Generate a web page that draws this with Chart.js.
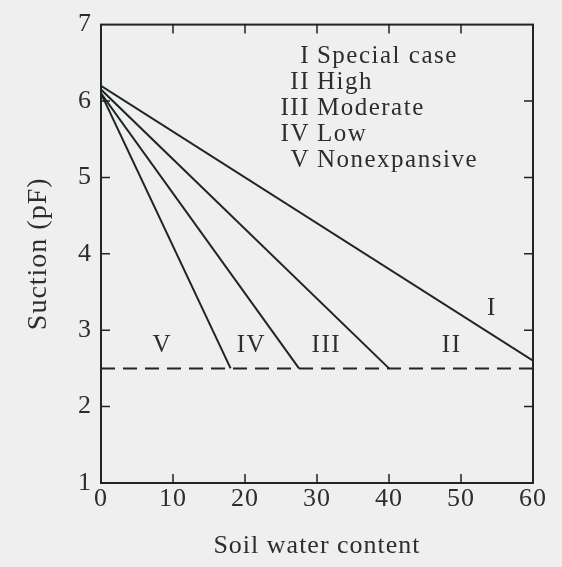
<!DOCTYPE html>
<html>
<head>
<meta charset="utf-8">
<script src="https://cdn.jsdelivr.net/npm/chart.js@4.4.1/dist/chart.umd.min.js"></script>
<style>
  html, body { margin: 0; padding: 0; background: #efefef; }
  #wrap { width: 562px; height: 567px; position: relative; }
</style>
</head>
<body>
<div id="wrap"><canvas id="c" width="562" height="567"></canvas></div>
<script>
// ---- data ----
const xTickValues = [0, 10, 20, 30, 40, 50, 60];
const yTickValues = [1, 2, 3, 4, 5, 6, 7];
// boundary lines (start at 0 water content, end on the 2.5 pF line or the right edge)
const boundaryNames = ['V/IV', 'IV/III', 'III/II', 'II/I'];
const boundaryStartX = [0, 0, 0, 0];
const boundaryStartY = [6.1, 6.1, 6.15, 6.2];
const boundaryEndX = [18, 27.5, 40, 60];
const boundaryEndY = [2.5, 2.5, 2.5, 2.6];
// dashed reference line
const dashedX = [0, 60];
const dashedY = [2.5, 2.5];
// legend entries
const legendNumerals = ['I', 'II', 'III', 'IV', 'V'];
const legendTexts = ['Special case', 'High', 'Moderate', 'Low', 'Nonexpansive'];
const legendY = [6.58, 6.24, 5.9, 5.56, 5.22];
const legendX = 29.3;
// region labels
const regionLabels = ['V', 'IV', 'III', 'II', 'I'];
const regionX = [8.5, 20.9, 31.3, 48.7, 54.3];
const regionY = [2.8, 2.8, 2.8, 2.8, 3.28];

const INK = '#1d261f';
const TEXT = '#2b2f2c';
const SERIF = '"Liberation Serif", "Times New Roman", serif';

const datasets = boundaryNames.map((n, i) => ({
  label: n,
  data: [{x: boundaryStartX[i], y: boundaryStartY[i]}, {x: boundaryEndX[i], y: boundaryEndY[i]}],
  borderColor: INK, borderWidth: 2, pointRadius: 0, fill: false, tension: 0
}));
datasets.push({
  label: 'dashed',
  data: dashedX.map((x, i) => ({x: x, y: dashedY[i]})),
  borderColor: INK, borderWidth: 2, borderDash: [14, 8], pointRadius: 0, fill: false
});

const frame = {
  id: 'frame',
  beforeDraw(chart) {
    const ctx = chart.ctx;
    ctx.save();
    ctx.fillStyle = '#efefef';
    ctx.fillRect(0, 0, chart.width, chart.height);
    ctx.restore();
    ctx.letterSpacing = '1px';
  },
  afterDatasetsDraw(chart) {
    const {ctx, chartArea: a, scales: {x, y}} = chart;
    ctx.save();
    ctx.strokeStyle = INK;
    ctx.lineWidth = 2;
    ctx.strokeRect(a.left, a.top, a.right - a.left, a.bottom - a.top);
    const tl = 9;
    ctx.lineWidth = 1.5;
    ctx.beginPath();
    xTickValues.slice(1, -1).forEach(v => {
      const px = x.getPixelForValue(v);
      ctx.moveTo(px, a.bottom); ctx.lineTo(px, a.bottom - tl);
      ctx.moveTo(px, a.top); ctx.lineTo(px, a.top + tl);
    });
    yTickValues.slice(1, -1).forEach(v => {
      const py = y.getPixelForValue(v);
      ctx.moveTo(a.left, py); ctx.lineTo(a.left + tl, py);
      ctx.moveTo(a.right, py); ctx.lineTo(a.right - tl, py);
    });
    ctx.stroke();

    ctx.fillStyle = TEXT;
    ctx.font = '25px ' + SERIF;
    ctx.letterSpacing = '1.5px';
    ctx.textBaseline = 'middle';
    const lx = x.getPixelForValue(legendX);
    legendNumerals.forEach((num, i) => {
      const py = y.getPixelForValue(legendY[i]);
      ctx.textAlign = 'right';
      ctx.fillText(num, lx - 2, py);
      ctx.textAlign = 'left';
      ctx.fillText(legendTexts[i], lx + 5, py);
    });
    ctx.textAlign = 'center';
    regionLabels.forEach((t, i) => {
      ctx.fillText(t, x.getPixelForValue(regionX[i]), y.getPixelForValue(regionY[i]));
    });
    ctx.restore();
  }
};

new Chart(document.getElementById('c'), {
  type: 'line',
  data: { datasets },
  plugins: [frame],
  options: {
    responsive: false,
    animation: false,
    devicePixelRatio: 1,
    layout: { padding: { top: 14, right: 29, left: 0, bottom: 0 } },
    plugins: { legend: { display: false }, tooltip: { enabled: false } },
    scales: {
      x: {
        type: 'linear', min: 0, max: 60,
        afterBuildTicks: s => { s.ticks = xTickValues.map(v => ({value: v})); },
        afterFit: s => { s.height = 84; },
        grid: { display: false, drawTicks: false },
        border: { display: false },
        ticks: { color: TEXT, font: { family: SERIF, size: 26 }, padding: 1, maxRotation: 0 },
        title: { display: true, text: 'Soil water content', color: TEXT,
                 font: { family: SERIF, size: 26 }, padding: { top: 0, bottom: 5 } }
      },
      y: {
        type: 'linear', min: 1, max: 7,
        afterBuildTicks: s => { s.ticks = yTickValues.map(v => ({value: v})); },
        afterFit: s => { s.width = 101; },
        grid: { display: false, drawTicks: false },
        border: { display: false },
        ticks: { color: TEXT, font: { family: SERIF, size: 26 }, padding: 9 },
        title: { display: true, text: 'Suction (pF)', color: TEXT,
                 font: { family: SERIF, size: 28 }, padding: { top: 22, bottom: 0 } }
      }
    }
  }
});
</script>
</body>
</html>
